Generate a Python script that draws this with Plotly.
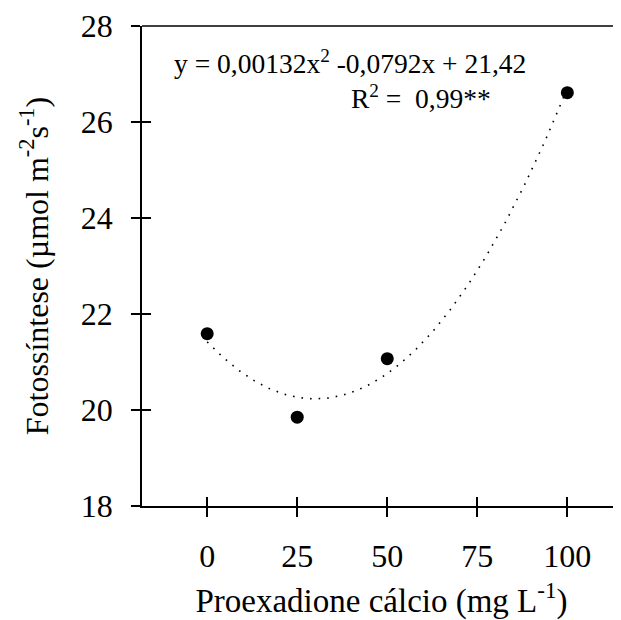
import numpy as np
import plotly.graph_objects as go

doses = [0, 25, 50, 100]
fotossintese = [21.59, 19.85, 21.07, 26.61]
coef = [0.00132, -0.0792, 21.42]  # a, b, c of fitted quadratic
x_ticks = [0, 25, 50, 75, 100]
y_ticks = [18, 20, 22, 24, 26, 28]

FONT = "Liberation Serif"

xf = np.linspace(0, 100, 200)
yf = coef[0] * xf**2 + coef[1] * xf + coef[2]

fig = go.Figure()
fig.add_trace(go.Scatter(x=xf, y=yf, mode="lines",
                         line=dict(color="black", width=1.6, dash="1.6px,7px"),
                         showlegend=False, hoverinfo="skip"))
fig.add_trace(go.Scatter(x=doses, y=fotossintese, mode="markers",
                         marker=dict(color="black", size=13),
                         showlegend=False))

xr = [-18.1, 114.9]
yr = [18, 28]

# page body has an 8px margin: shift the figure accordingly
L, T, PW, PH = 134, 18, 479, 480
W, H = 613, 612

fig.update_layout(
    width=W, height=H,
    margin=dict(l=L, r=W - L - PW, t=T, b=H - T - PH, autoexpand=False),
    plot_bgcolor="white", paper_bgcolor="white",
    font=dict(family=FONT, color="black", size=32),
    xaxis=dict(range=xr, tickvals=x_ticks, ticks="outside", ticklen=9, tickwidth=1.5,
               tickcolor="black", showline=True, linecolor="black", linewidth=1.5,
               showgrid=False, zeroline=False, ticklabelstandoff=12,
               tickfont=dict(family=FONT, size=32),
               title=dict(text="Proexadione cálcio (mg L<sup>-1</sup>)",
                          font=dict(family=FONT, size=33), standoff=19)),
    yaxis=dict(range=yr, tickvals=y_ticks, ticks="outside", ticklen=9, tickwidth=1.5,
               tickcolor="black", showline=True, linecolor="black", linewidth=1.5,
               showgrid=False, zeroline=False, ticklabelstandoff=12,
               tickfont=dict(family=FONT, size=32),
               title=dict(text="Fotossíntese (µmol m<sup>-2</sup>s<sup>-1</sup>)",
                          font=dict(family=FONT, size=32), standoff=23)),
    xaxis2=dict(range=xr, tickvals=x_ticks, ticks="inside", ticklen=9, tickwidth=1.5,
                tickcolor="black", showticklabels=False, showgrid=False, zeroline=False,
                overlaying="x", side="bottom", anchor="y"),
    yaxis2=dict(range=yr, tickvals=y_ticks, ticks="inside", ticklen=9, tickwidth=1.5,
                tickcolor="black", showticklabels=False, showgrid=False, zeroline=False,
                overlaying="y", side="left", anchor="x"),
)
fig.add_trace(go.Scatter(x=[None], y=[None], xaxis="x2", yaxis="y2", showlegend=False))

fig.add_shape(type="line", xref="paper", yref="paper", x0=0, x1=1, y0=1, y1=1,
              line=dict(color="black", width=1.5))

fig.add_annotation(xref="paper", yref="paper", x=(172 - 142) / PW, y=1 - (62 - 26) / PH,
                   xanchor="left", yanchor="middle", showarrow=False, height=34,
                   text="y = 0,00132x<sup>2</sup> -0,0792x + 21,42",
                   font=dict(family=FONT, size=27.5))
fig.add_annotation(xref="paper", yref="paper", x=(349 - 142) / PW, y=1 - (97 - 26) / PH,
                   xanchor="left", yanchor="middle", showarrow=False, height=34,
                   text="R<sup>2</sup> =  0,99**", font=dict(family=FONT, size=27.5))

fig.write_html("out.html")
